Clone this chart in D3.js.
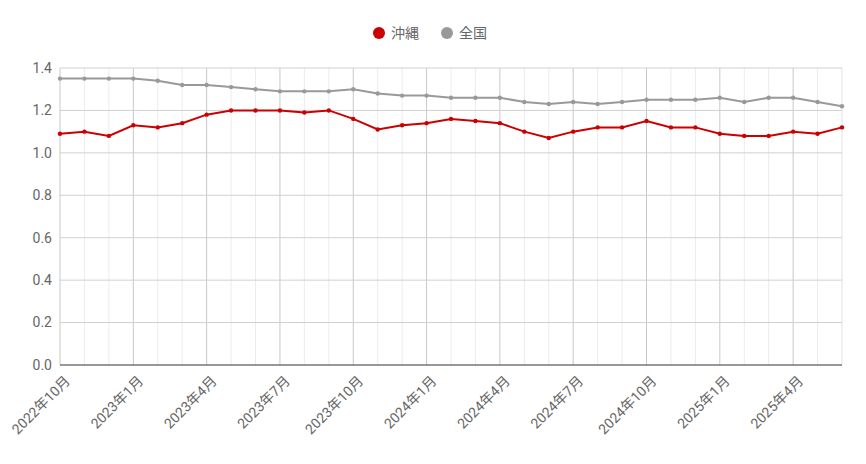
<!DOCTYPE html>
<html><head><meta charset="utf-8">
<script src="https://cdn.jsdelivr.net/npm/d3@7"></script>
<style>body{margin:0;background:#fff;font-family:Roboto,"Noto Sans CJK JP",sans-serif}</style>
</head><body><svg id="c" width="866" height="464"></svg>
<script>
const months = [];
for (let i = 0; i < 33; i++) { const m = 9 + i; months.push({y: 2022 + Math.floor(m / 12), m: m % 12 + 1}); }
const okinawa = [1.09,1.10,1.08,1.13,1.12,1.14,1.18,1.20,1.20,1.20,1.19,1.20,1.16,1.11,1.13,1.14,1.16,1.15,1.14,1.10,1.07,1.10,1.12,1.12,1.15,1.12,1.12,1.09,1.08,1.08,1.10,1.09,1.12];
const zenkoku = [1.35,1.35,1.35,1.35,1.34,1.32,1.32,1.31,1.30,1.29,1.29,1.29,1.30,1.28,1.27,1.27,1.26,1.26,1.26,1.24,1.23,1.24,1.23,1.24,1.25,1.25,1.25,1.26,1.24,1.26,1.26,1.24,1.22];
const yTicks = [0,0.2,0.4,0.6,0.8,1.0,1.2,1.4];
const series = [{name:"沖縄", color:"#cc0000", values: okinawa},{name:"全国", color:"#999999", values: zenkoku}];

const svg = d3.select("#c");
const L = 60, R = 842, T = 68, B = 365;
const x = d3.scaleLinear().domain([0, months.length - 1]).range([L, R]);
const y = d3.scaleLinear().domain([0, 1.4]).range([B, T]);

// grid
svg.append("g").selectAll("line").data(months).join("line")
  .attr("x1", (d,i)=>x(i)).attr("x2",(d,i)=>x(i)).attr("y1",T).attr("y2",B)
  .attr("stroke", (d,i)=> i%3===0 ? "#c8c8c8" : "#ececec");
svg.append("line").attr("x1",R).attr("x2",R).attr("y1",T).attr("y2",B).attr("stroke","#ececec");
svg.append("g").selectAll("line").data(yTicks).join("line")
  .attr("x1",L).attr("x2",R).attr("y1",d=>y(d)).attr("y2",d=>y(d))
  .attr("stroke",d=>d===0?"#333":"#d0d0d0");

svg.append("g").selectAll("text").data(yTicks).join("text")
  .attr("x",L-8).attr("y",d=>y(d)).attr("dy","0.35em").attr("text-anchor","end")
  .attr("font-size",14).attr("fill","#666").text(d=>d.toFixed(1));

svg.append("g").selectAll("text").data(months.map((d,i)=>({d,i})).filter(o=>o.i%3===0)).join("text")
  .attr("transform",o=>`translate(${x(o.i)+4},${B+10}) rotate(-45)`)
  .attr("text-anchor","end").attr("dy","0.7em")
  .attr("font-size",14).attr("fill","#666").text(o=>`${o.d.y}年${o.d.m}月`);

const line = d3.line().x((d,i)=>x(i)).y(d=>y(d));
series.slice().reverse().forEach(s=>{
  svg.append("path").attr("d",line(s.values)).attr("fill","none").attr("stroke",s.color).attr("stroke-width",2);
  svg.append("g").selectAll("circle").data(s.values).join("circle")
    .attr("cx",(d,i)=>x(i)).attr("cy",d=>y(d)).attr("r",2.2).attr("fill",s.color);
});

// legend
const lg = svg.append("g");
[{s:series[0],x:379},{s:series[1],x:447}].forEach(o=>{
  lg.append("circle").attr("cx",o.x).attr("cy",33).attr("r",6).attr("fill",o.s.color);
  lg.append("text").attr("x",o.x+12).attr("y",33).attr("dy","0.35em").attr("font-size",14).attr("fill","#666").text(o.s.name);
});
</script></body></html>
